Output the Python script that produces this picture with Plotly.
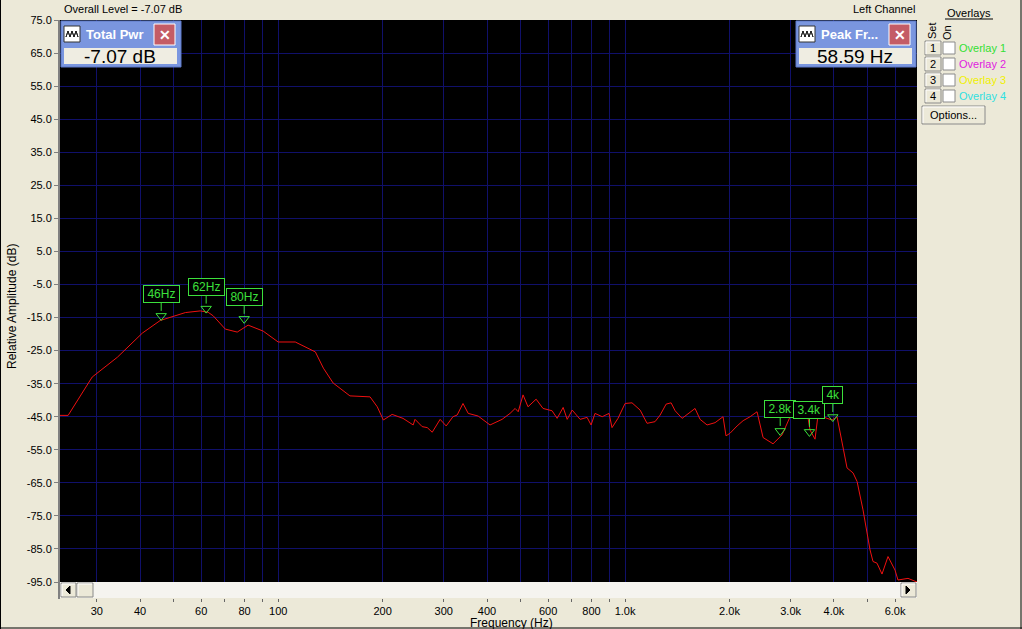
import numpy as np
import plotly.graph_objects as go

# spectrum (Hz, dB)
freq_hz = [23.5, 24.8, 29.1, 34.4, 40.6, 45.7, 54.0, 59.6, 62.8, 65.0, 70.4, 76.2, 81.9, 90.5,
           100, 112, 128, 135, 144, 161, 184, 193, 201, 213, 229, 245, 248, 260, 269, 278,
           293, 305, 319, 328, 341, 353, 377, 408, 442, 466, 482, 492, 508, 525, 554, 580,
           616, 637, 663, 681, 704, 742, 777, 798, 819, 859, 899, 917, 954, 1000, 1047,
           1105, 1157, 1220, 1262, 1313, 1357, 1394, 1460, 1519, 1591, 1645, 1723, 1817,
           1916, 1954, 2007, 2103, 2189, 2293, 2401, 2499, 2670, 2835, 2990, 3090, 3194,
           3345, 3413, 3528, 3599, 3821, 3950, 4083, 4165, 4249, 4364, 4541, 4664, 4852,
           5083, 5184, 5323, 5503, 5727, 5999, 6119, 6540, 6850, 6942]
level_db = [-44.6, -44.6, -33.0, -27.0, -19.7, -15.9, -13.5, -13.0, -13.4, -14.5, -18.5, -19.4, -17.3, -19.1,
            -22.4, -22.4, -25.4, -30.3, -34.8, -38.7, -39.0, -42.0, -46.0, -44.3, -45.5, -47.5, -45.8, -48.0, -48.3, -49.7,
            -45.8, -47.8, -45.0, -44.5, -41.0, -44.0, -44.8, -47.5, -45.8, -44.0, -42.5, -43.5, -38.4, -42.0, -39.7, -42.5,
            -43.2, -45.5, -42.2, -45.8, -43.0, -45.8, -45.2, -47.5, -44.0, -45.0, -44.0, -48.3, -45.5, -41.0, -40.8,
            -43.0, -47.0, -46.5, -44.5, -41.2, -40.8, -43.2, -45.5, -44.0, -42.5, -45.8, -47.5, -46.8,
            -45.0, -50.8, -50.0, -47.8, -46.2, -45.0, -43.5, -51.3, -53.2, -50.5, -45.0, -44.0, -43.0,
            -43.5, -49.0, -51.8, -44.5, -45.5, -46.0, -45.0, -50.0, -54.0, -60.5, -62.0, -64.6, -73.2,
            -85.3, -88.8, -89.3, -92.6, -87.3, -91.4, -94.4, -93.9, -94.6, -95.0]

# peak markers
marker_freq = [46, 62, 79.8, 2800, 3400, 3970]
marker_db = [-14.5, -12.3, -15.4, -49.3, -49.6, -45.1]
marker_text = ['46Hz', '62Hz', '80Hz', '2.8k', '3.4k', '4k']

# axes
x_range_hz = [23.5, 6942]
grid_freqs = [30, 40, 50, 60, 70, 80, 90, 100, 200, 300, 400, 500, 600, 700, 800, 900,
              1000, 2000, 3000, 4000, 5000, 6000]
grid_labels = ['30', '40', '', '60', '', '80', '', '100', '200', '300', '400', '', '600', '', '800', '',
               '1.0k', '2.0k', '3.0k', '4.0k', '', '6.0k']
y_ticks = [75, 65, 55, 45, 35, 25, 15, 5, -5, -15, -25, -35, -45, -55, -65, -75, -85, -95]

overlay_names = ['Overlay 1', 'Overlay 2', 'Overlay 3', 'Overlay 4']
overlay_colors = ['#33E033', '#E020E0', '#F0F000', '#30E0E0']

BG = '#ECE9D8'
GRID = '#10106A'
MARK = '#3CE03C'
FONT = 'Liberation Sans'


# pixel -> paper helpers for the window chrome
def px(x):
    return (x - 60) / 857


def py(y):
    return (600 - y) / 580


fig = go.Figure()

fig.add_trace(go.Scatter(x=freq_hz, y=level_db, mode='lines', line=dict(color='#F01010', width=1),
                         hoverinfo='skip'))
fig.add_trace(go.Scatter(x=marker_freq, y=marker_db, mode='markers',
                         marker=dict(symbol='triangle-down-open', size=9, color=MARK, line=dict(width=1)),
                         hoverinfo='skip'))
# dummy trace so the lower tick axis gets drawn
fig.add_trace(go.Scatter(x=[freq_hz[0]], y=[level_db[0]], xaxis='x2', mode='markers',
                         marker=dict(opacity=0), hoverinfo='skip'))

for f, d, t in zip(marker_freq, marker_db, marker_text):
    fig.add_annotation(x=np.log10(f), y=d, xref='x', yref='y', text='\u2009' + t + '\u2009',
                       showarrow=True, arrowhead=0,
                       arrowwidth=1, arrowcolor=MARK, ax=0, ay=-22, standoff=5,
                       bordercolor=MARK, borderwidth=1, borderpad=1, bgcolor='black',
                       font=dict(color=MARK, size=12, family=FONT))

log_range = [np.log10(x_range_hz[0]), np.log10(x_range_hz[1])]
fig.update_layout(
    width=1022, height=629, autosize=False,
    margin=dict(l=60, r=105, t=20, b=29, pad=0),
    paper_bgcolor=BG, plot_bgcolor='black', showlegend=False,
    font=dict(family=FONT, size=11, color='black'),
    xaxis=dict(type='log', range=log_range, tickvals=grid_freqs, showticklabels=False, ticks='',
               showgrid=True, gridcolor=GRID, gridwidth=1, zeroline=False, showline=False),
    xaxis2=dict(type='log', range=log_range, overlaying='x', anchor='free', position=py(598),
                tickvals=grid_freqs, ticktext=grid_labels, ticks='outside', ticklen=3,
                tickcolor='#666666', showgrid=False, zeroline=False, showline=False,
                tickfont=dict(size=11, family=FONT, color='black')),
    yaxis=dict(range=[-95, 75], domain=[py(582), 1], tickvals=y_ticks,
               ticktext=[f'{v:.1f}' for v in y_ticks], ticks='outside', ticklen=4,
               tickcolor='#808080', showline=True, linecolor='#808080', linewidth=2,
               showgrid=True, gridcolor=GRID, gridwidth=1, zeroline=False,
               tickfont=dict(size=11, family=FONT, color='black')),
)


def rect(x0, y0, x1, y1, fill, line=None, width=1):
    fig.add_shape(type='rect', xref='paper', yref='paper', x0=px(x0), x1=px(x1), y0=py(y1), y1=py(y0),
                  fillcolor=fill, line=dict(color=line or fill, width=width if line else 0), layer='above')


def hline(x0, x1, y, color, width=1):
    fig.add_shape(type='line', xref='paper', yref='paper', x0=px(x0), x1=px(x1), y0=py(y), y1=py(y),
                  line=dict(color=color, width=width), layer='above')


def vline(x, y0, y1, color, width=1):
    fig.add_shape(type='line', xref='paper', yref='paper', x0=px(x), x1=px(x), y0=py(y0), y1=py(y1),
                  line=dict(color=color, width=width), layer='above')


def label(x, y, text, size=11, color='black', anchor='left', **kw):
    fig.add_annotation(xref='paper', yref='paper', x=px(x), y=py(y), text=text, showarrow=False,
                       xanchor=anchor, yanchor='middle', font=dict(size=size, color=color, family=FONT), **kw)


def path(points, fill, color):
    d = 'M ' + ' L '.join(f'{px(a)},{py(b)}' for a, b in points) + ' Z'
    fig.add_shape(type='path', xref='paper', yref='paper', path=d, fillcolor=fill,
                  line=dict(color=color, width=1), layer='above')


def button(x0, y0, x1, y1, fill=BG):
    rect(x0, y0, x1, y1, fill, '#8A8A8A')
    hline(x0 + 1, x1 - 1, y0 + 1, 'white')
    vline(x0 + 1, y0 + 1, y1 - 1, 'white')


# scrollbar under the plot
rect(60, 582, 917, 598, '#F5F4EF')
button(61, 583, 76, 597)
path([(66, 590), (70, 586), (70, 594)], 'black', 'black')
button(77, 583, 93, 597)
button(901, 583, 916, 597)
path([(910, 590), (906, 586), (906, 594)], 'black', 'black')
vline(59, 582, 599, '#808080', 2)

# outer frame
vline(0.5, 0, 629, 'black')
vline(1021, 0, 629, 'black')
hline(0, 1022, 628, 'black')

# titles
label(62, 9, 'Overall Level = -7.07 dB')
label(917, 9, 'Left Channel', anchor='right')
label(511, 622.5, 'Frequency (Hz)', size=12, anchor='center')
label(12, 307, 'Relative Amplitude (dB)', size=12, anchor='center', textangle=-90)


# floating readout windows
def readout(x0, title, value):
    rect(x0, 21, x0 + 120, 67, '#7A96DF', '#5C78C8')
    rect(x0 + 3, 26, x0 + 19, 42, 'white', '#333333')
    path([(x0 + 5, 37), (x0 + 7, 31), (x0 + 9, 37), (x0 + 11, 31), (x0 + 13, 37), (x0 + 15, 31),
          (x0 + 17, 37), (x0 + 15, 31), (x0 + 13, 37), (x0 + 11, 31), (x0 + 9, 37), (x0 + 7, 31)],
         'rgba(0,0,0,0)', '#222222')
    label(x0 + 23, 34, f'<b>{title}</b>', size=13, color='white')
    rect(x0 + 93, 24, x0 + 114, 45, '#C45C66', 'white')
    label(x0 + 103.5, 34.5, '<b>✕</b>', size=14, color='white', anchor='center')
    rect(x0 + 3, 48, x0 + 116, 64, '#EFEDE2')
    label(x0 + 59, 57, value, size=19, anchor='center')


readout(61, 'Total Pwr', '-7.07 dB')
readout(796, 'Peak Fr...', '58.59 Hz')

# overlays panel
label(969, 13, 'Overlays', anchor='center')
hline(945, 993, 19, 'black')
label(932, 31, 'Set', anchor='center', textangle=-90)
label(947, 33, 'On', anchor='center', textangle=-90)
for i, (name, col) in enumerate(zip(overlay_names, overlay_colors)):
    yc = 48 + 16 * i
    button(925, yc - 7, 941, yc + 7)
    label(933, yc, str(i + 1), anchor='center')
    rect(943, yc - 6, 955, yc + 6, 'white', '#8A8A8A')
    label(957, yc, name, color=col)
button(922, 106, 985, 124)
label(953.5, 115, 'Options...', anchor='center')

fig.write_html('out.html', config={'displayModeBar': False},
               post_script="document.body.style.margin='0';")
